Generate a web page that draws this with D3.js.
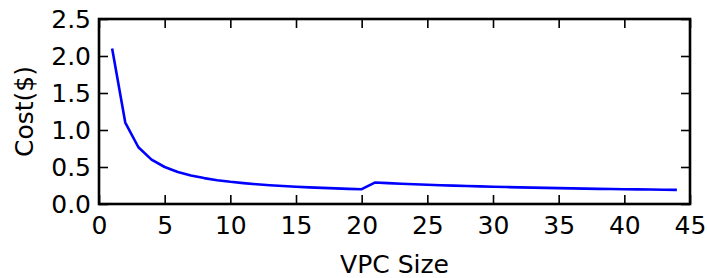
<!DOCTYPE html>
<html>
<head>
<meta charset="utf-8">
<script src="https://cdn.jsdelivr.net/npm/d3@7"></script>
<style>
  body { margin: 0; background: #fff; }
  svg { display: block; }
  text { font-family: "DejaVu Sans", sans-serif; fill: #000; }
</style>
</head>
<body>
<svg id="contenedor"></svg>
<script>
// tamaños del VPC (eje x)
let vpcSize = [1, 2, 3, 4, 5, 6, 7, 8, 9, 10, 11, 12, 13, 14, 15, 16, 17, 18, 19, 20,
  21, 22, 23, 24, 25, 26, 27, 28, 29, 30, 31, 32, 33, 34, 35, 36, 37, 38, 39, 40, 41, 42, 43, 44];

// costo
let costo = [2.100, 1.100, 0.767, 0.600, 0.500, 0.433, 0.386, 0.350, 0.322, 0.300,
  0.282, 0.267, 0.254, 0.243, 0.233, 0.225, 0.218, 0.211, 0.205, 0.200,
  0.290, 0.282, 0.274, 0.267, 0.260, 0.254, 0.248, 0.243, 0.238, 0.233,
  0.229, 0.225, 0.221, 0.218, 0.214, 0.211, 0.208, 0.205, 0.203, 0.200,
  0.198, 0.195, 0.193, 0.191];

// ticks
let ticksX = [0, 5, 10, 15, 20, 25, 30, 35, 40, 45];
let ticksY = [0.0, 0.5, 1.0, 1.5, 2.0, 2.5];

let datos = vpcSize.map((v, i) => ({ x: v, y: costo[i] }));

// configuracion del area
let width = 707;
let height = 278;
let margin = { top: 19, left: 99, right: 17, bottom: 74 };
let bodyWidth = width - margin.left - margin.right;
let bodyHeight = height - margin.top - margin.bottom;

let container = d3.select("#contenedor").attr("width", width).attr("height", height);

let xScale = d3.scaleLinear().domain([0, 45]).range([0, bodyWidth]);
let yScale = d3.scaleLinear().domain([0, 2.5]).range([bodyHeight, 0]);

let body = container.append("g")
  .attr("transform", `translate(${margin.left},${margin.top})`);

// linea
let linea = d3.line().x(d => xScale(d.x)).y(d => yScale(d.y));
body.append("path")
  .datum(datos)
  .attr("d", linea)
  .attr("fill", "none")
  .attr("stroke", "#0000ff")
  .attr("stroke-width", 2.6)
  .attr("stroke-linejoin", "round");

let fontSize = "25px";

// ejes (ticks hacia adentro, estilo matplotlib clasico)
let axisBottom = d3.axisBottom(xScale).tickValues(ticksX).tickSizeInner(-9).tickSizeOuter(0).tickPadding(12)
  .tickFormat(d3.format("d"));
let axisTop = d3.axisTop(xScale).tickValues(ticksX).tickSizeInner(-9).tickSizeOuter(0).tickFormat("");
let axisLeft = d3.axisLeft(yScale).tickValues(ticksY).tickSizeInner(-9).tickSizeOuter(0).tickPadding(8)
  .tickFormat(d3.format(".1f"));
let axisRight = d3.axisRight(yScale).tickValues(ticksY).tickSizeInner(-9).tickSizeOuter(0).tickFormat("");

function estilo(g) {
  g.select(".domain").remove();
  g.selectAll(".tick line").attr("stroke", "#000").attr("stroke-width", 1.6);
  g.selectAll(".tick text").style("font-size", fontSize).attr("font-family", null).attr("fill", "#000");
}

body.append("g").attr("transform", `translate(0,${bodyHeight})`).call(axisBottom).call(estilo);
body.append("g").call(axisTop).call(estilo);
body.append("g").call(axisLeft).call(estilo);
body.append("g").attr("transform", `translate(${bodyWidth},0)`).call(axisRight).call(estilo);

// marco
body.append("rect")
  .attr("width", bodyWidth)
  .attr("height", bodyHeight)
  .attr("fill", "none")
  .attr("stroke", "#000")
  .attr("stroke-width", 2.6);

// etiquetas
container.append("text")
  .attr("x", margin.left + bodyWidth / 2)
  .attr("y", 273)
  .attr("text-anchor", "middle")
  .style("font-size", fontSize)
  .text("VPC Size");

container.append("text")
  .attr("transform", `translate(33,${margin.top + bodyHeight / 2}) rotate(-90)`)
  .attr("text-anchor", "middle")
  .style("font-size", fontSize)
  .text("Cost($)");
</script>
</body>
</html>
